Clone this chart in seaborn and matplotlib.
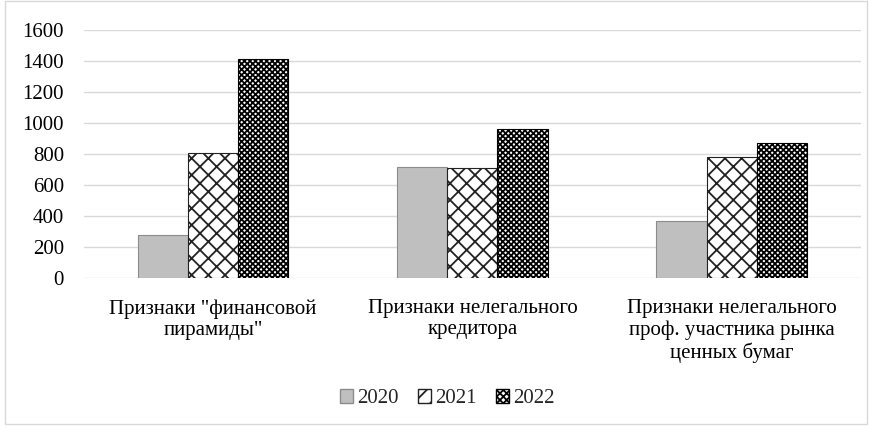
import numpy as np
import pandas as pd
import matplotlib
matplotlib.use("Agg")
import matplotlib.pyplot as plt
import seaborn as sns
from matplotlib.patches import Patch

categories = ['Признаки "финансовой\nпирамиды"',
              "Признаки нелегального\nкредитора",
              "Признаки нелегального\nпроф. участника рынка\nценных бумаг"]
years = ["2020", "2021", "2022"]
values_2020 = [277, 716, 368]
values_2021 = [806, 710, 782]
values_2022 = [1413, 961, 873]

df = pd.DataFrame({
    "category": categories * 3,
    "year": [y for y in years for _ in categories],
    "value": values_2020 + values_2021 + values_2022,
})

sns.set_style("white")
plt.rcParams["font.family"] = ["Liberation Serif", "DejaVu Serif"]
plt.rcParams["hatch.linewidth"] = 1.3

fig = plt.figure(figsize=(8.7, 4.26), dpi=100)
ax = fig.add_axes([0.096, 0.347, 0.894, 0.583])

face = {"2020": "#bfbfbf", "2021": "white", "2022": "white"}
hatch = {"2020": "", "2021": "xx", "2022": "xxxxxx"}
legend_hatch = {"2020": "", "2021": "//", "2022": "xxxxx"}
edge = {"2020": "#8c8c8c", "2021": "#222222", "2022": "black"}

sns.barplot(data=df, x="category", y="value", hue="year", order=categories,
            hue_order=years, width=0.58, gap=0, ax=ax, legend=False,
            palette=face, saturation=1)

for container, yr in zip(ax.containers, years):
    for bar in container:
        bar.set_facecolor(face[yr])
        bar.set_hatch(hatch[yr])
        bar.set_edgecolor(edge[yr])
        bar.set_linewidth(0.8)

ax.set_ylim(0, 1600)
ax.set_xlim(-0.5, 2.5)
ax.set_yticks(range(0, 1601, 200))
ax.yaxis.grid(True, color="#d9d9d9", linewidth=1)
ax.set_axisbelow(True)
for s in ax.spines.values():
    s.set_visible(False)
ax.set_xlabel("")
ax.set_ylabel("")
ax.tick_params(axis="both", length=0, labelsize=15, colors="black")
ax.tick_params(axis="y", pad=14)
ax.tick_params(axis="x", pad=15)
for lbl in ax.get_xticklabels():
    lbl.set_linespacing(1.15)

handles = [Patch(facecolor=face[y], edgecolor=edge[y], hatch=legend_hatch[y], label=y)
           for y in years]
fig.legend(handles=handles, loc="center", bbox_to_anchor=(0.514, 0.065), ncol=3,
           frameon=False, fontsize=15, handlelength=0.65, handleheight=0.65,
           handletextpad=0.2, columnspacing=0.9)

fig.patches.append(plt.Rectangle((0.006, 0.004), 0.99, 0.994, transform=fig.transFigure,
                                 fill=False, edgecolor="#d9d9d9", linewidth=1))

fig.savefig("out.png", dpi=100, facecolor="white")
